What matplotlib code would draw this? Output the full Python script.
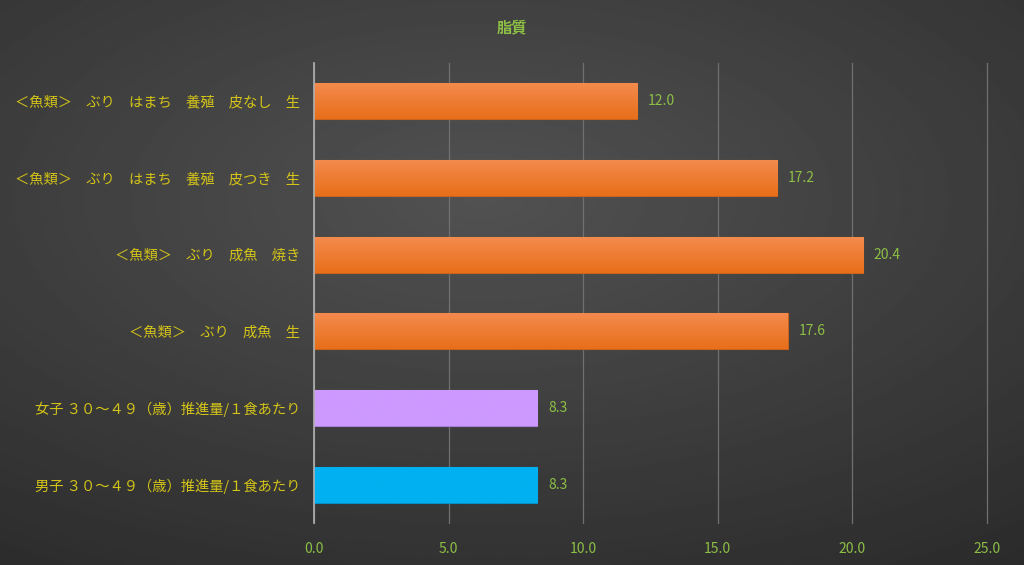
import numpy as np
import matplotlib
matplotlib.use("Agg")
import matplotlib.pyplot as plt
from matplotlib.colors import LinearSegmentedColormap

plt.rcParams['font.family'] = ['Noto Sans CJK JP', 'DejaVu Sans']

# Data (top to bottom as shown)
labels = [
    "＜魚類＞　ぶり　はまち　養殖　皮なし　生",
    "＜魚類＞　ぶり　はまち　養殖　皮つき　生",
    "＜魚類＞　ぶり　成魚　焼き",
    "＜魚類＞　ぶり　成魚　生",
    "女子 ３０～４９（歳）推進量/１食あたり",
    "男子 ３０～４９（歳）推進量/１食あたり",
]
values = [12.0, 17.2, 20.4, 17.6, 8.3, 8.3]
top_colors = ["#F48B4E", "#F48B4E", "#F48B4E", "#F48B4E", "#CC99FF", "#00B0F0"]
bot_colors = ["#E86F1A", "#E86F1A", "#E86F1A", "#E86F1A", "#CC99FF", "#00B0F0"]
edges = ["#C8621C", "#C8621C", "#C8621C", "#C8621C", "#A97FD6", "#0090C8"]
xticks = [0, 5, 10, 15, 20, 25]

fig = plt.figure(figsize=(10.24, 5.65), dpi=100)

# radial gradient background
bg = fig.add_axes([0, 0, 1, 1], zorder=-10)
yy, xx = np.mgrid[0:1:300j, 0:1:540j]
r = np.sqrt(((xx - 0.47) / 1.0) ** 2 + ((yy - 0.35) / 0.9) ** 2)
shade = 0.32 - 0.17 * np.clip(r, 0, 1)
bg.imshow(shade, cmap="gray", vmin=0, vmax=1, aspect="auto", extent=[0, 1, 0, 1], origin="upper")
bg.axis("off")

ax = fig.add_axes([314 / 1024, 1 - 523 / 565, (987 - 314) / 1024, 460 / 565])
ax.set_facecolor("none")

y = np.arange(len(values))
bars = ax.barh(y, values, height=0.47, color=bot_colors, edgecolor=edges, linewidth=0.8, zorder=3)
grad = np.linspace(0, 1, 64).reshape(-1, 1)
for b, c1, c2 in zip(bars, top_colors, bot_colors):
    cmap = LinearSegmentedColormap.from_list("g", [c1, c2])
    x0, y0 = b.get_x(), b.get_y()
    im = ax.imshow(grad, cmap=cmap, aspect="auto", zorder=3.5,
                   extent=[x0, x0 + b.get_width(), y0 + b.get_height(), y0], origin="upper")
    im.set_clip_path(b)

ax.set_ylim(len(values) - 0.5, -0.5)
ax.set_xlim(0, 25)

ax.set_yticks(y)
ax.set_yticklabels(labels, color="#D4C418", fontsize=10.3)
ax.set_xticks(xticks)
ax.set_xticklabels([f"{v:.1f}" for v in xticks], color="#8DBF45", fontsize=10)
ax.tick_params(axis="both", length=0)
ax.tick_params(axis="y", pad=10)
ax.tick_params(axis="x", pad=14)

ax.grid(axis="x", color="#707070", linewidth=0.9, zorder=0)
for gl in ax.get_xgridlines():
    gl.set_clip_on(False)
for s in ["top", "right", "bottom"]:
    ax.spines[s].set_visible(False)
ax.spines["left"].set_color("#B0B0B0")
ax.spines["left"].set_linewidth(1.2)
ax.spines["left"].set_zorder(4)

for yi, v in zip(y, values):
    ax.text(v + 0.4, yi, f"{v:.1f}", va="center", ha="left", color="#8DBF45", fontsize=10)

fig.text(0.5, 1 - 27 / 565, "脂質", ha="center", va="center", color="#8DBF45",
         fontsize=11, fontweight="bold")

fig.savefig("out.png", dpi=100)
